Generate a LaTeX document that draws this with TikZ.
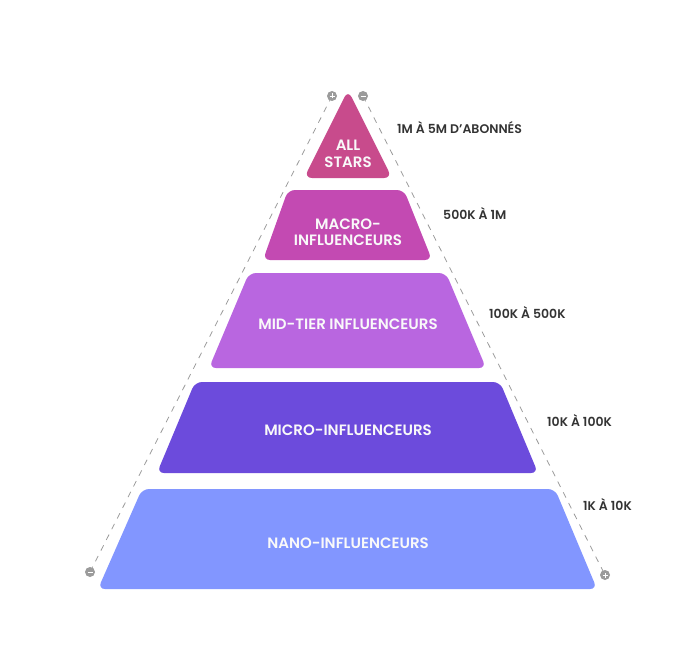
\documentclass[tikz,border=0pt]{standalone}
\usepackage{fontspec}
\setmainfont{Poppins}
\newfontfamily\medf{Poppins Medium}
\newfontfamily\semif{Poppins SemiBold}
\definecolor{cstar}{RGB}{200,75,140}
\definecolor{cmacro}{RGB}{195,74,178}
\definecolor{cmid}{RGB}{185,102,224}
\definecolor{cmicro}{RGB}{108,75,220}
\definecolor{cnano}{RGB}{130,150,255}
\definecolor{cgray}{RGB}{155,155,155}
\definecolor{ctext}{RGB}{51,51,51}
\begin{document}
\begin{tikzpicture}[x=1pt,y=-1pt,
  tier/.style={rounded corners=7pt},
  tiertext/.style={text=white!95!gray,font=\semif\fontsize{15}{17.5}\selectfont,align=center,inner sep=0pt},
  rangelabel/.style={text=ctext,font=\semif\fontsize{12.5}{14}\selectfont,anchor=west,inner sep=0pt},
  guide/.style={draw=cgray,line width=0.8pt,dash pattern=on 6pt off 6pt},
  knob/.style={circle,fill=cgray,minimum size=10pt,inner sep=0pt}]
\useasboundingbox (0,0) rectangle (695,663);
% guide lines
\coordinate (tl) at (332,96);
\coordinate (tr) at (363,96);
\coordinate (bl) at (90,572);
\coordinate (br) at (605,575);
\draw[guide] (tl) -- (bl);
\draw[guide] (tr) -- (br);
\node[knob] (ktl) at (tl) {};
\node[knob] (ktr) at (tr) {};
\node[knob] (kbl) at (bl) {};
\node[knob] (kbr) at (br) {};
\foreach \k in {ktl,kbr}{
  \draw[white,line width=0.9pt] ([xshift=-2.5pt]\k.center) -- ([xshift=2.5pt]\k.center)
    ([yshift=-2.5pt]\k.center) -- ([yshift=2.5pt]\k.center);}
\foreach \k in {ktr,kbl}{
  \draw[white,line width=0.9pt] ([xshift=-2.5pt]\k.center) -- ([xshift=2.5pt]\k.center);}
% tiers
\fill[cstar,rounded corners=8pt] (348,90) -- (392,178) -- (304,178) -- cycle;
\fill[cmacro,tier] (288,190) -- (404,190) -- (432,260) -- (263,260) -- cycle;
\fill[cmid,tier] (249,273) -- (446,273) -- (486,368) -- (209,368) -- cycle;
\fill[cmicro,tier] (195,382) -- (500,382) -- (538,473) -- (157,473) -- cycle;
\fill[cnano,tier] (142,489) -- (555,489) -- (597,589) -- (98,589) -- cycle;
% tier texts
\node[tiertext] (tstar) at (348,154) {ALL\\[-1pt]STARS};
\node[tiertext] (tmacro) at (348,232) {MACRO-\\[-1pt]INFLUENCEURS};
\node[tiertext] (tmid) at (348,324) {MID-TIER INFLUENCEURS};
\node[tiertext] (tmicro) at (348,430) {MICRO-INFLUENCEURS};
\node[tiertext] (tnano) at (348,543) {NANO-INFLUENCEURS};
% range labels
\node[rangelabel] (lstar) at (397,128) {1M À 5M D’ABONNÉS};
\node[rangelabel] (lmacro) at (443,214) {500K À 1M};
\node[rangelabel] (lmid) at (489,313) {100K À 500K};
\node[rangelabel] (lmicro) at (547,421) {10K À 100K};
\node[rangelabel] (lnano) at (583,505) {1K À 10K};
\end{tikzpicture}
\end{document}
